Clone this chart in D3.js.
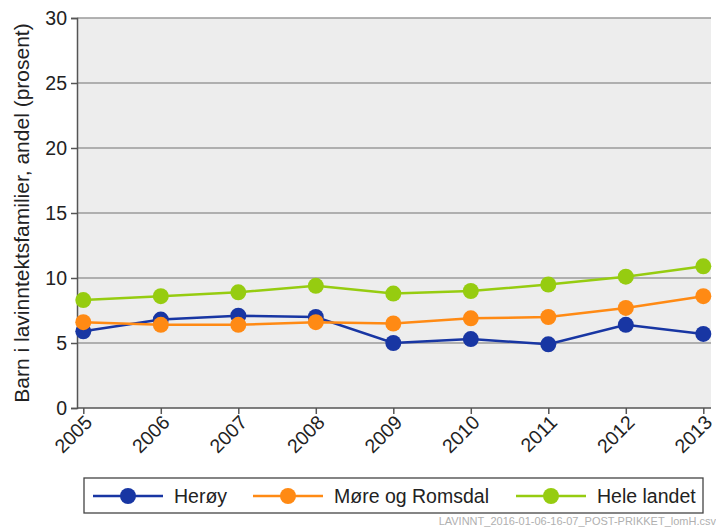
<!DOCTYPE html>
<html>
<head>
<meta charset="utf-8">
<script src="https://cdn.jsdelivr.net/npm/d3@7"></script>
<style>
  html, body { margin: 0; padding: 0; background: #fff; }
  svg { display: block; font-family: "Liberation Sans", Arial, sans-serif; }
</style>
</head>
<body>
<svg id="chart" width="716" height="528"></svg>
<script>
const years = ["2005","2006","2007","2008","2009","2010","2011","2012","2013"];
const heroy = [5.9, 6.8, 7.1, 7.0, 5.0, 5.3, 4.9, 6.4, 5.7];
const moreRomsdal = [6.6, 6.4, 6.4, 6.6, 6.5, 6.9, 7.0, 7.7, 8.6];
const heleLandet = [8.3, 8.6, 8.9, 9.4, 8.8, 9.0, 9.5, 10.1, 10.9];
const yTicks = [0, 5, 10, 15, 20, 25, 30];
const seriesNames = ["Herøy", "Møre og Romsdal", "Hele landet"];
const seriesColors = ["#1836a3", "#ff8a14", "#96cc10"];
const yTitle = "Barn i lavinntektsfamilier, andel (prosent)";
const footer = "LAVINNT_2016-01-06-16-07_POST-PRIKKET_lomH.csv";

const series = [heroy, moreRomsdal, heleLandet].map((v, i) => ({
  name: seriesNames[i], color: seriesColors[i], values: v
}));

const svg = d3.select("#chart");
const plot = { left: 77, right: 711, top: 18, bottom: 408 };

const x = d3.scalePoint().domain(years).range([83.3, 703.3]);
const y = d3.scaleLinear().domain([0, 30]).range([plot.bottom, plot.top]);

// background
svg.append("rect")
  .attr("x", plot.left).attr("y", plot.top)
  .attr("width", plot.right - plot.left).attr("height", plot.bottom - plot.top)
  .attr("fill", "#ededed");

// gridlines
svg.append("g").selectAll("line")
  .data(yTicks.filter(d => d > 0))
  .join("line")
  .attr("x1", plot.left).attr("x2", plot.right)
  .attr("y1", d => y(d)).attr("y2", d => y(d))
  .attr("stroke", "#9a9a9a").attr("stroke-width", 1.5);

// y axis
const yAxis = svg.append("g")
  .attr("transform", `translate(${plot.left},0)`)
  .call(d3.axisLeft(y).tickValues(yTicks).tickSize(6).tickPadding(4).tickFormat(d3.format("d")));
yAxis.select(".domain").attr("stroke", "#555").attr("stroke-width", 1.5);
yAxis.selectAll(".tick line").attr("stroke", "#555").attr("stroke-width", 1.5);
yAxis.selectAll(".tick text").attr("font-size", 19.5).attr("fill", "#222")
  .attr("font-family", "Liberation Sans, Arial, sans-serif");

// x axis
const xAxis = svg.append("g")
  .attr("transform", `translate(0,${plot.bottom})`)
  .call(d3.axisBottom(x).tickSize(6).tickSizeOuter(0));
xAxis.select(".domain").attr("d", `M${plot.left},0H${plot.right}`)
  .attr("stroke", "#555").attr("stroke-width", 1.5);
xAxis.selectAll(".tick line").attr("stroke", "#555").attr("stroke-width", 1.5);
xAxis.selectAll(".tick text")
  .attr("font-size", 19.5).attr("fill", "#222")
  .attr("font-family", "Liberation Sans, Arial, sans-serif")
  .attr("text-anchor", "end")
  .attr("dy", null)
  .attr("y", 0).attr("x", 0)
  .attr("transform", "translate(6,12) rotate(-45)")
  .attr("dominant-baseline", "middle");

// y title
svg.append("text")
  .attr("transform", `translate(29,${(plot.top + plot.bottom) / 2}) rotate(-90)`)
  .attr("text-anchor", "middle")
  .attr("font-size", 21).attr("fill", "#222")
  .text(yTitle);

// lines and markers
const line = d3.line().x((d, i) => x(years[i])).y(d => y(d));
const g = svg.append("g");
series.forEach(s => {
  g.append("path").datum(s.values)
    .attr("d", line).attr("fill", "none")
    .attr("stroke", s.color).attr("stroke-width", 2.5);
});
series.forEach(s => {
  g.selectAll(null).data(s.values).join("circle")
    .attr("cx", (d, i) => x(years[i])).attr("cy", d => y(d))
    .attr("r", 8).attr("fill", s.color);
});

// legend
const lg = svg.append("g");
lg.append("rect").attr("x", 84).attr("y", 478).attr("width", 619).attr("height", 35)
  .attr("fill", "#fff").attr("stroke", "#444").attr("stroke-width", 1.3);
const legendX = [93, 253, 516];
series.forEach((s, i) => {
  const lx = legendX[i];
  lg.append("line").attr("x1", lx).attr("x2", lx + 70).attr("y1", 496).attr("y2", 496)
    .attr("stroke", s.color).attr("stroke-width", 2.5);
  lg.append("circle").attr("cx", lx + 35).attr("cy", 496).attr("r", 8).attr("fill", s.color);
  lg.append("text").attr("x", lx + 81).attr("y", 496).attr("dy", "0.35em")
    .attr("font-size", 19.5).attr("fill", "#222").text(s.name);
});

// footer
svg.append("text").attr("x", 716).attr("y", 525).attr("text-anchor", "end")
  .attr("font-size", 11).attr("fill", "#b0b0b0").text(footer);
</script>
</body>
</html>
